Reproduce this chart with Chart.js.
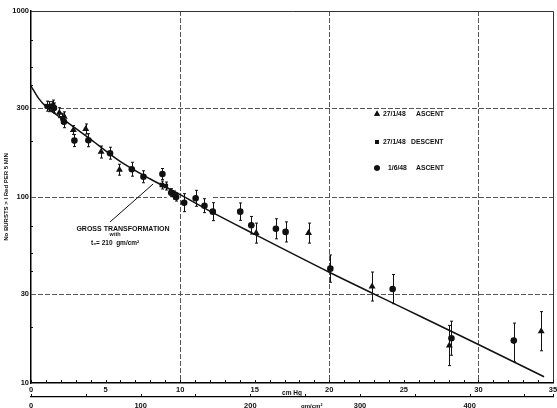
<!DOCTYPE html>
<html><head><meta charset="utf-8">
<script src="https://cdn.jsdelivr.net/npm/chart.js@4.4.0/dist/chart.umd.min.js"></script>
<style>html,body{margin:0;padding:0;background:#fff;overflow:hidden}</style>
</head><body>
<canvas id="c" width="557" height="408"></canvas>
<script>
// ---- data (cm Hg, bursts per 5 min) ----
const triX  = [1.50, 1.90, 2.23, 2.84, 3.67, 4.70, 5.93, 15.10, 18.61, 22.87, 28.05, 34.21];
const triY  = [312, 284, 270, 229, 232, 175, 140, 64, 64, 33, 15.9, 19.0];
const triLo = [293, 267, 254, 217, 218, 162, 131, 56.5, 56.5, 27.6, 12.4, 14.9];
const triHi = [332, 302, 287, 242, 247, 188, 150, 72.4, 72.4, 39.5, 20.4, 24.2];

const sqX  = [1.05, 1.21, 2.10, 8.77, 9.04, 9.60];
const sqY  = [308, 306, 265, 116, 114.6, 102.5];
const sqLo = [289.5, 287.6, 249, 110.4, 109.0, 97.5];
const sqHi = [327.7, 325.6, 282, 121.9, 120.4, 107.7];

const cirX  = [1.39, 1.54, 2.21, 2.91, 3.85, 5.30, 6.76, 7.54, 8.81, 9.40, 9.73, 10.27, 11.04, 11.63, 12.19, 14.03, 14.77, 16.42, 17.07, 20.07, 24.25, 28.19, 32.37];
const cirY  = [306, 301, 254, 201, 202, 172, 141, 128.5, 133, 105.5, 100, 93.2, 98.4, 89.8, 83.4, 83.4, 70.5, 67.5, 64.9, 41.2, 32.0, 17.4, 16.9];
const cirLo = [287.6, 282.9, 235.8, 186.6, 186.3, 159.7, 129.4, 119.3, 124.3, 100.4, 95.1, 83.4, 89.1, 82.4, 74.6, 74.9, 63.2, 59.6, 57.3, 34.8, 26.7, 14.1, 13.0];
const cirHi = [325.6, 320.3, 273.6, 216.5, 219.0, 185.2, 153.7, 138.4, 142.3, 110.9, 105.1, 104.2, 108.6, 97.9, 93.2, 92.9, 78.6, 76.4, 73.5, 48.8, 38.3, 21.5, 21.0];

// Gross transformation curve (t0 = 210 gm/cm2)
const curveX = [0, 0.5, 1, 2, 4, 6, 8, 10, 12, 15, 20, 25, 30, 34.4];
const curveY = [395, 340, 306, 267, 204, 155, 125, 103, 84, 63, 39.4, 25.2, 16.1, 10.8];

const yTickValues = [10, 30, 100, 300, 1000];
const yTickLabels = ['10', '30', '100', '300', '1000'];
const xLabelEvery = 5;
const gmPerCmHg = 13.6;

const legendItems = [
  {style:'triangle', date:'27/1/48', word:'ASCENT'},
  {style:'rect',     date:'27/1/48', word:'DESCENT'},
  {style:'circle',   date:'1/6/48',  word:'ASCENT'}
];

const pts = (xs, ys) => xs.map((v, i) => ({x: v, y: ys[i]}));

const FONT = "'Liberation Sans', Arial, 'DejaVu Sans', sans-serif";
Chart.defaults.font.family = FONT;
Chart.defaults.color = '#111';

function drawErr(chart, xs, los, his) {
  const {ctx, scales: {x, y}} = chart;
  ctx.save();
  ctx.strokeStyle = '#111'; ctx.lineWidth = 1;
  for (let i = 0; i < xs.length; i++) {
    const px = Math.round(x.getPixelForValue(xs[i])) + 0.5;
    const y1 = y.getPixelForValue(his[i]), y2 = y.getPixelForValue(los[i]);
    ctx.beginPath();
    ctx.moveTo(px, y1); ctx.lineTo(px, y2);
    ctx.moveTo(px - 1.5, y1); ctx.lineTo(px + 1.5, y1);
    ctx.moveTo(px - 1.5, y2); ctx.lineTo(px + 1.5, y2);
    ctx.stroke();
  }
  ctx.restore();
}

const decor = {
  id: 'decor',
  beforeDraw(chart) {
    const ctx = chart.ctx;
    ctx.save(); ctx.fillStyle = '#fff'; ctx.fillRect(0, 0, chart.width, chart.height); ctx.restore();
  },
  beforeDatasetsDraw(chart) {
    const {ctx, chartArea: a, scales: {x, y}} = chart;
    ctx.save();
    ctx.strokeStyle = '#555'; ctx.lineWidth = 1; ctx.setLineDash([5, 2]);
    const hseg = [[300, 0, 35], [100, 0, 9.1], [100, 12.2, 35], [30, 0, 35]];
    hseg.forEach(([v, x0, x1]) => {
      const py = Math.round(y.getPixelForValue(v)) + 0.5;
      ctx.beginPath(); ctx.moveTo(x.getPixelForValue(x0), py); ctx.lineTo(x.getPixelForValue(x1), py); ctx.stroke();
    });
    [10, 20, 30].forEach(v => {
      const px = Math.round(x.getPixelForValue(v)) + 0.5;
      ctx.beginPath(); ctx.moveTo(px, a.top); ctx.lineTo(px, a.bottom); ctx.stroke();
    });
    // top and right frame
    ctx.setLineDash([]); ctx.strokeStyle = '#333';
    ctx.beginPath();
    ctx.moveTo(a.left, a.top + 0.5); ctx.lineTo(a.right + 0.5, a.top + 0.5); ctx.lineTo(a.right + 0.5, a.bottom);
    ctx.stroke();
    ctx.restore();
    drawErr(chart, triX, triLo, triHi);
    drawErr(chart, sqX, sqLo, sqHi);
    drawErr(chart, cirX, cirLo, cirHi);
  },
  afterDraw(chart) {
    const {ctx, chartArea: a, scales: {x, y, x2}} = chart;
    ctx.save();
    ctx.strokeStyle = '#111'; ctx.lineWidth = 1;
    // inward ticks on cm Hg axis
    ctx.beginPath();
    x.ticks.forEach(t => {
      const px = Math.round(x.getPixelForValue(t.value)) + 0.5;
      ctx.moveTo(px, a.bottom); ctx.lineTo(px, a.bottom - 3);
    });
    // ticks on gm/cm2 axis
    x2.ticks.forEach(t => {
      const px = Math.round(x2.getPixelForValue(t.value)) + 0.5;
      ctx.moveTo(px, x2.top); ctx.lineTo(px, x2.top - 3);
    });
    // minor ticks on y axis
    [20, 40, 50, 70, 200, 400, 500, 700].forEach(v => {
      const py = Math.round(y.getPixelForValue(v)) + 0.5;
      ctx.moveTo(a.left, py); ctx.lineTo(a.left + 2, py);
    });
    ctx.stroke();

    // annotation
    ctx.beginPath();
    ctx.moveTo(x.getPixelForValue(5.3), y.getPixelForValue(73.4));
    ctx.lineTo(x.getPixelForValue(8.19), y.getPixelForValue(117.5));
    ctx.stroke();
    ctx.fillStyle = '#111'; ctx.textAlign = 'center'; ctx.textBaseline = 'middle';
    ctx.font = "bold 7px " + FONT;
    ctx.fillText('GROSS TRANSFORMATION', x.getPixelForValue(6.17), y.getPixelForValue(67.3));
    ctx.font = "bold 5.5px " + FONT;
    ctx.fillText('with', x.getPixelForValue(5.64), y.getPixelForValue(62.5));
    ctx.font = "bold 6.5px " + FONT;
    ctx.fillText('t\u2080= 210  gm/cm\u00B2', x.getPixelForValue(5.64), y.getPixelForValue(56.2));

    // secondary axis title
    ctx.font = "bold 6px " + FONT;
    ctx.fillText('gm/cm\u00B2', x2.getPixelForValue(256), 406);

    // legend
    const rows = [114, 142, 168];
    legendItems.forEach((it, i) => {
      const yy = rows[i];
      Chart.helpers.drawPoint(ctx, {pointStyle: it.style, radius: it.style === 'triangle' ? 3.4 : 2.8, rotation: 0}, 377, yy);
      ctx.fill();
      ctx.textAlign = 'left';
      ctx.font = "bold 6.8px " + FONT;
      ctx.fillText(it.date, i === 2 ? 388 : 383, yy + 0.5);
      ctx.fillText(it.word, i === 1 ? 411 : 416, yy + 0.5);
    });
    ctx.restore();
  }
};

new Chart(document.getElementById('c'), {
  type: 'scatter',
  data: {
    datasets: [
      {label: 'Gross transformation', data: pts(curveX, curveY), showLine: true, borderColor: '#111',
       borderWidth: 1.5, pointRadius: 0, tension: 0.35, cubicInterpolationMode: 'monotone', fill: false},
      {label: '27/1/48 ASCENT', data: pts(triX, triY), pointStyle: 'triangle', pointRadius: 4,
       backgroundColor: '#111', borderColor: '#111', borderWidth: 0},
      {label: '27/1/48 DESCENT', data: pts(sqX, sqY), pointStyle: 'rect', pointRadius: 3.2,
       backgroundColor: '#111', borderColor: '#111', borderWidth: 0},
      {label: '1/6/48 ASCENT', data: pts(cirX, cirY), pointStyle: 'circle', pointRadius: 3.3,
       backgroundColor: '#111', borderColor: '#111', borderWidth: 0}
    ]
  },
  options: {
    responsive: false, animation: false, devicePixelRatio: 1,
    layout: {padding: {left: 0, right: 3, top: 11, bottom: 0}},
    plugins: {legend: {display: false}, tooltip: {enabled: false}},
    scales: {
      x: {
        type: 'linear', min: 0, max: 35, position: 'bottom', weight: 0,
        grid: {display: false, drawTicks: false},
        border: {display: true, color: '#000', width: 1.5},
        ticks: {stepSize: 1, autoSkip: false, maxRotation: 0, padding: 2,
                font: {size: 7.5, weight: 'bold'},
                callback: v => (v % xLabelEvery === 0 ? String(v) : '')},
        title: {display: true, text: 'cm Hg', font: {size: 6.5, weight: 'bold'}, padding: {top: 0, bottom: 0}},
        afterFit: s => { s.height = 14; s.paddingLeft = 0; s.paddingRight = 0; }
      },
      x2: {
        type: 'linear', min: 0, max: 35 * gmPerCmHg, position: 'bottom', weight: 1,
        grid: {display: false, drawTicks: false},
        border: {display: true, color: '#000', width: 1.2},
        ticks: {stepSize: 50, autoSkip: false, maxRotation: 0, padding: 4,
                font: {size: 7.5, weight: 'bold'},
                callback: v => (v % 100 === 0 ? String(v) : '')},
        title: {display: false},
        afterFit: s => { s.height = 11; s.paddingLeft = 0; s.paddingRight = 0; }
      },
      y: {
        type: 'logarithmic', min: 10, max: 1000, position: 'left',
        grid: {display: false, drawTicks: false},
        border: {display: true, color: '#000', width: 1.5},
        afterBuildTicks: s => { s.ticks = yTickValues.map(v => ({value: v})); },
        ticks: {padding: 2, font: {size: 7.5, weight: 'bold'},
                callback: v => yTickLabels[yTickValues.indexOf(v)] ?? ''},
        title: {display: true, text: 'No BURSTS > I Red PER 5 MIN', font: {size: 6, weight: 'bold'},
                padding: {top: 3, bottom: 0}},
        afterFit: s => { s.width = 31; s.paddingTop = 0; s.paddingBottom = 0; }
      }
    }
  },
  plugins: [decor]
});
</script>
</body></html>
